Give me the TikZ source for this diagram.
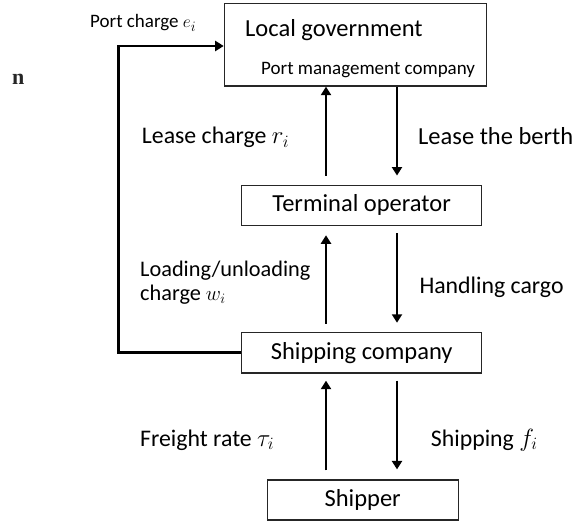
\documentclass[tikz,border=0pt]{standalone}
\usepackage{fontspec}
\setmainfont{Carlito}
\newfontfamily\strayfont{Liberation Serif}
\usetikzlibrary{arrows.meta}
\begin{document}
\begin{tikzpicture}[x=1pt,y=-1pt,
  box/.style={draw=black!85,line width=1.2pt,inner sep=0pt,font=\fontsize{24.5}{28}\selectfont},
  flow/.style={line width=2.9pt,-{Triangle[length=8.5pt,width=10pt]}},
  txt/.style={anchor=base west,inner sep=0pt},
  fbig/.style={font=\fontsize{24.5}{28}\selectfont},
  flab/.style={font=\fontsize{23.8}{28}\selectfont},
  fsmall/.style={font=\fontsize{19}{22}\selectfont},
  fmid/.style={font=\fontsize{22.3}{26}\selectfont}]
\useasboundingbox (0,0) rectangle (583,524);

% boxes
\node[box,minimum width=262.4pt,minimum height=82.7pt] (lg) at (355.5,44.7) {};
\node[box,minimum width=240pt,minimum height=40.5pt] (to) at (361.7,205.4) {Terminal operator};
\node[box,minimum width=240pt,minimum height=40.7pt] (sc) at (361.7,352.7) {Shipping company};
\node[box,minimum width=191pt,minimum height=40pt] (sh) at (362.7,500) {Shipper};

% texts inside the top box
\node[txt,fbig] (lgt) at (245,36.7) {Local government};
\node[txt,fsmall] (pmc) at (261,75) {Port management company};

% vertical connectors
\draw[flow,shorten <=9pt] (to.north -| 326,0) -- (lg.south -| 326,0);
\draw[flow,shorten >=9pt] (lg.south -| 397,0) -- (to.north -| 397,0);
\draw[flow,shorten <=8pt,shorten >=9pt] (sc.north -| 326,0) -- (to.south -| 326,0);
\draw[flow,shorten <=7pt,shorten >=9pt] (to.south -| 397,0) -- (sc.north -| 397,0);
\draw[flow,shorten <=9pt,shorten >=7pt] (sh.north -| 326,0) -- (sc.south -| 326,0);
\draw[flow,shorten <=7pt,shorten >=10pt] (sc.south -| 397,0) -- (sh.north -| 397,0);

% feedback connector
\coordinate (fb) at (118.5,46);
\draw[flow] (sc.west) -| (fb) -- (fb -| lg.west);

% labels
\node[txt,fsmall] (pc) at (90,28) {Port charge \(e_i\)};
\node[txt,flab] (lc) at (141.7,143.3) {Lease charge \(r_i\)};
\node[txt,fbig] (lb) at (418,144) {Lease the berth};
\node[txt,fmid] (lu1) at (140,276.7) {Loading/unloading};
\node[txt,fmid] (lu2) at (140,300) {charge \(w_i\)};
\node[txt,flab] (hc) at (419.3,293) {Handling cargo};
\node[txt,flab] (fr) at (140,446) {Freight rate \(\tau_i\)};
\node[txt,flab] (sf) at (430.7,446) {Shipping \(f_i\)};

% stray glyph
\node[txt,font=\strayfont\bfseries\fontsize{22}{24}\selectfont,text=black!85] (stray) at (12,84.5) {n};
\end{tikzpicture}
\end{document}
